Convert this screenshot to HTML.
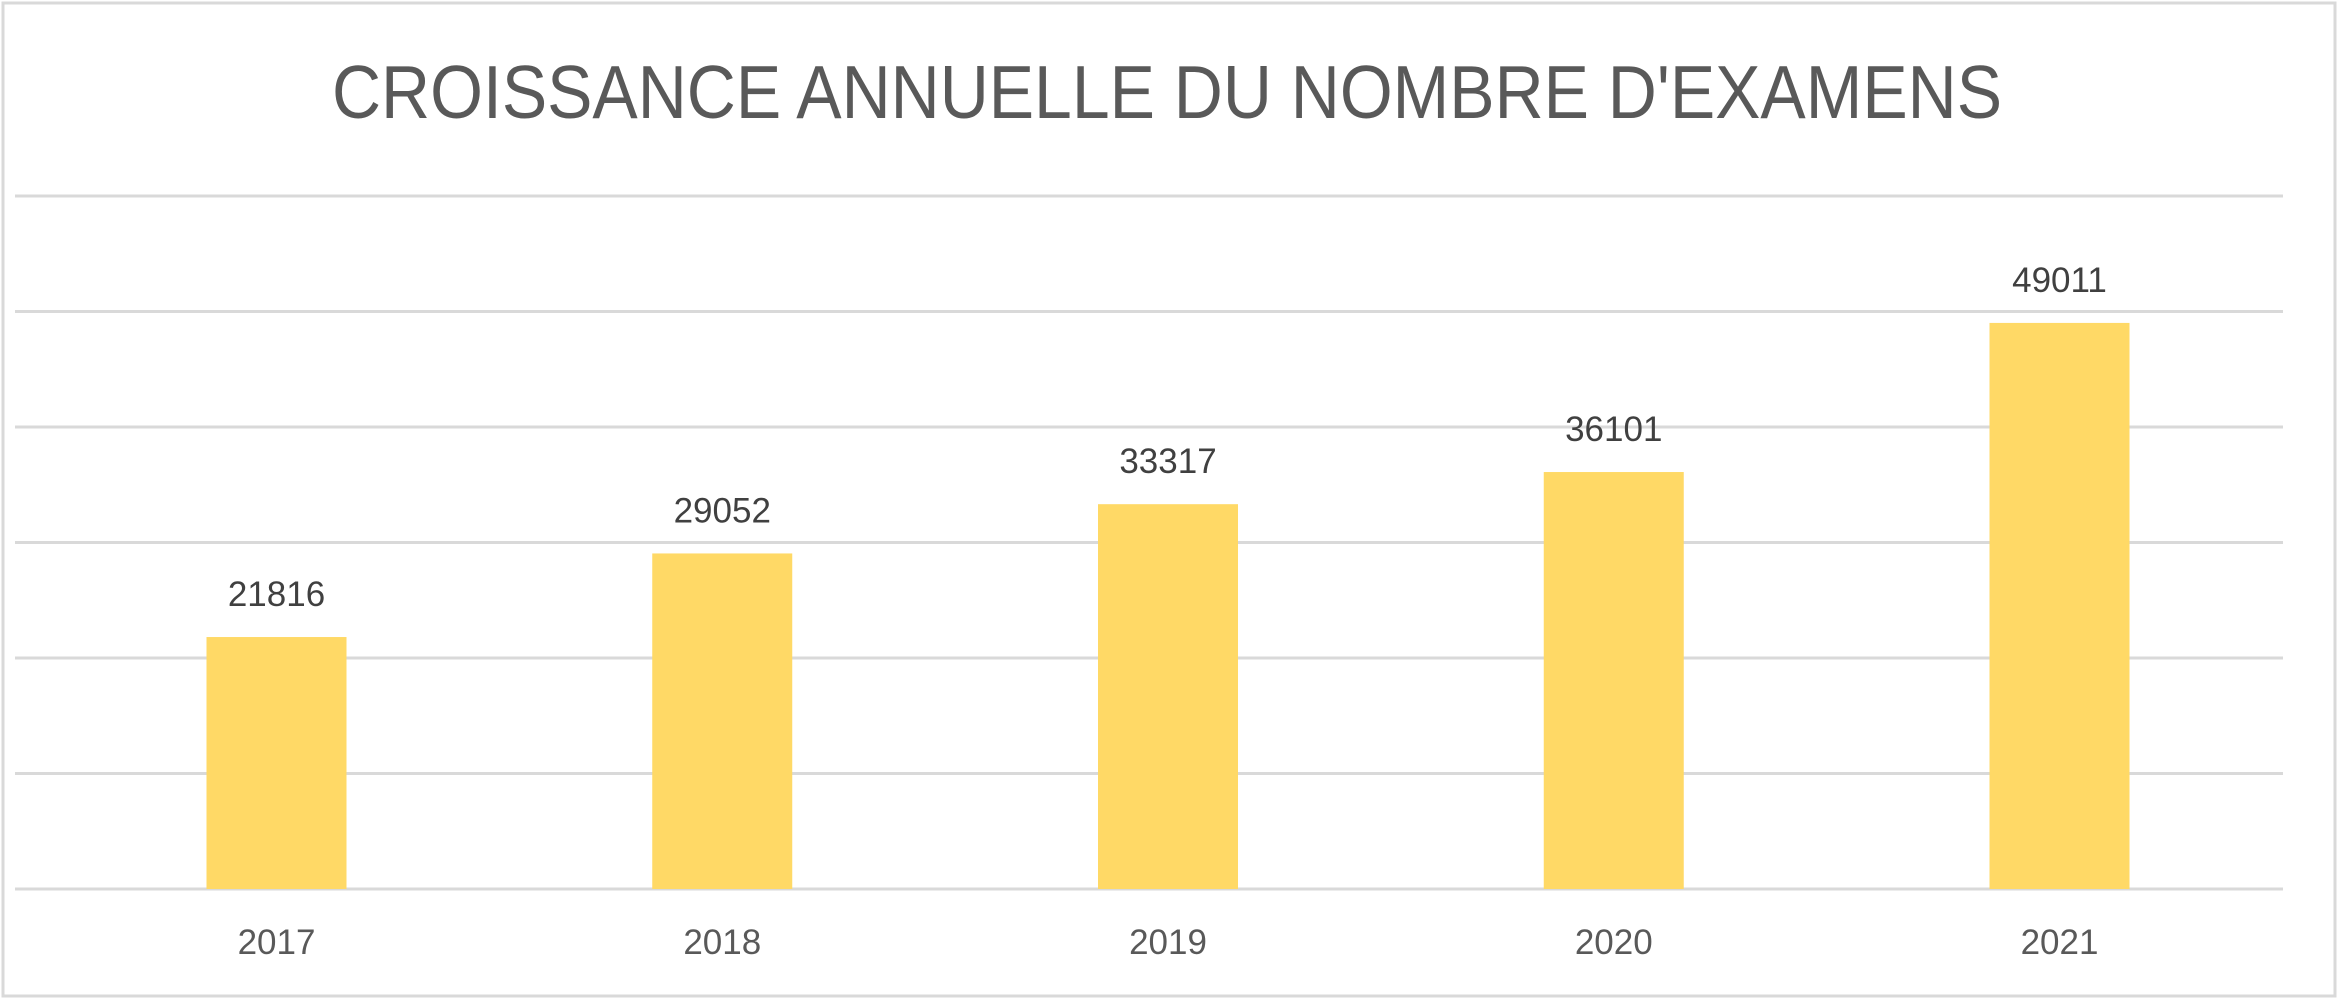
<!DOCTYPE html>
<html><head><meta charset="utf-8"><style>
html,body{margin:0;padding:0;background:#fff;}
svg{display:block;font-family:"Liberation Sans",sans-serif;}
</style></head><body>
<svg width="2342" height="1003" viewBox="0 0 2342 1003">
<rect x="3" y="3" width="2332" height="993" fill="#fff" stroke="#d9d9d9" stroke-width="3"/>
<text x="1167" y="118" text-anchor="middle" font-size="75" fill="#595959" textLength="1670" lengthAdjust="spacingAndGlyphs">CROISSANCE ANNUELLE DU NOMBRE D'EXAMENS</text>
<g id="grid"></g>
<g id="bars"></g>
<g id="labels"></g>
</svg>
<script>
const categories = ["2017","2018","2019","2020","2021"];
const values = [21816,29052,33317,36101,49011];
const yTicks = [0,10000,20000,30000,40000,50000,60000];
const NS="http://www.w3.org/2000/svg";
const yMax=60000, plotBase=889, plotTop=196, plotLeft=15, plotRight=2283;
const c0=276.5, step=445.75, bw=140;
function yScale(v){return plotBase-(v/yMax)*(plotBase-plotTop);}
function xScale(i){return c0+i*step;}
const grid=document.getElementById('grid'), bars=document.getElementById('bars'), labels=document.getElementById('labels');
yTicks.forEach(t=>{
  const l=document.createElementNS(NS,'line');
  l.setAttribute('x1',plotLeft);l.setAttribute('x2',plotRight);
  l.setAttribute('y1',yScale(t));l.setAttribute('y2',yScale(t));
  l.setAttribute('stroke','#d9d9d9');l.setAttribute('stroke-width','3');
  
  
  grid.appendChild(l);
});
values.forEach((v,i)=>{
  const r=document.createElementNS(NS,'rect');
  r.setAttribute('x',xScale(i)-bw/2);r.setAttribute('width',bw);
  r.setAttribute('y',yScale(v));r.setAttribute('height',plotBase-yScale(v));
  r.setAttribute('fill','#FFD966');
  
  
  bars.appendChild(r);
  const t=document.createElementNS(NS,'text');
  t.setAttribute('x',xScale(i));t.setAttribute('y',yScale(v)-31);
  t.setAttribute('text-anchor','middle');t.setAttribute('font-size','35');t.setAttribute('fill','#404040');
  t.textContent=v;
  
  
  labels.appendChild(t);
  const c=document.createElementNS(NS,'text');
  c.setAttribute('x',xScale(i));c.setAttribute('y',954);
  c.setAttribute('text-anchor','middle');c.setAttribute('font-size','35');c.setAttribute('fill','#595959');
  c.textContent=categories[i];
  
  
  labels.appendChild(c);
});
</script>
</body></html>
